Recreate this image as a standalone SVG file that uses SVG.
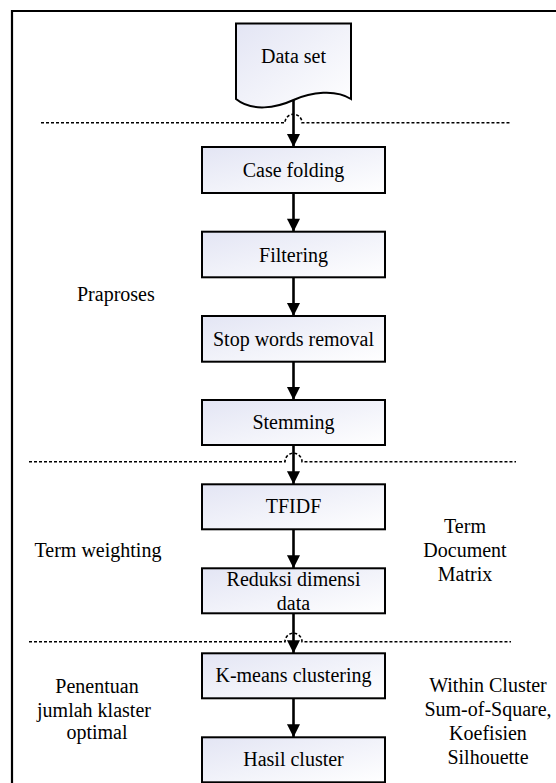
<svg xmlns="http://www.w3.org/2000/svg" width="556" height="783" viewBox="0 0 556 783">
<style>
text{font-family:"Liberation Serif","Times New Roman",serif;font-size:20px;fill:#000}
.c{text-anchor:middle}
.box{fill:url(#g);stroke:#000;stroke-width:2}
.sep{fill:none;stroke:#000;stroke-width:1.6;stroke-dasharray:3 2}
.arr{fill:none;stroke:#000;stroke-width:2.6;marker-end:url(#ah)}
</style>
<defs>
<linearGradient id="g" x1="0" y1="0" x2="1" y2="1">
<stop offset="0" stop-color="#e3e5f4"/>
<stop offset="1" stop-color="#ffffff"/>
</linearGradient>
<marker id="ah" viewBox="0 0 14 15" refX="14" refY="7" markerWidth="15" markerHeight="14" markerUnits="userSpaceOnUse" orient="auto">
<path d="M0,0 L14,7 L0,14 Z" fill="#000"/>
</marker>
</defs>
<rect x="0" y="0" width="556" height="783" fill="#fff"/>
<path d="M12,800 V11 H570" fill="none" stroke="#000" stroke-width="2.2"/>

<g id="separators">
<path class="sep" d="M41,122.7 H285 A8.5 8.5 0 0 1 302,122.7 H511"/>
<path class="sep" d="M29,461.7 H285 A8.5 8.5 0 0 1 302,461.7 H516"/>
<path class="sep" d="M29,641.7 H285 A8.5 8.5 0 0 1 302,641.7 H511"/>
</g>

<g id="connectors">
<path class="arr" d="M293.5,100 V147"/>
<path class="arr" d="M293.5,193 V231.7"/>
<path class="arr" d="M293.5,277.3 V316"/>
<path class="arr" d="M293.5,361.7 V400"/>
<path class="arr" d="M293.5,445 V484.3"/>
<path class="arr" d="M293.5,529.3 V568.3"/>
<path class="arr" d="M293.5,613.3 V653.3"/>
<path class="arr" d="M293.5,698.3 V737.3"/>
</g>

<g id="dataset">
<path class="box" d="M236,23.5 H351 V99 C336,89 311,92 293.5,100 C276,108 252,112 236,99 Z"/>
<text class="c" x="293.5" y="63">Data set</text>
</g>
<g id="casefolding">
<rect class="box" x="202" y="147" width="183" height="46"/>
<text class="c" x="293.5" y="177">Case folding</text>
</g>
<g id="filtering">
<rect class="box" x="202" y="231.7" width="183" height="45.6"/>
<text class="c" x="293.5" y="261.5">Filtering</text>
</g>
<g id="stopwords">
<rect class="box" x="202" y="316" width="183" height="45.7"/>
<text class="c" x="293.5" y="345.8">Stop words removal</text>
</g>
<g id="stemming">
<rect class="box" x="202" y="400" width="183" height="45"/>
<text class="c" x="293.5" y="429">Stemming</text>
</g>
<g id="tfidf">
<rect class="box" x="202" y="484.3" width="183" height="45"/>
<text class="c" x="293.5" y="513.3">TFIDF</text>
</g>
<g id="reduksi">
<rect class="box" x="202" y="568.3" width="183" height="45"/>
<text class="c" x="293.5" y="586">Reduksi dimensi</text>
<text class="c" x="293.5" y="610">data</text>
</g>
<g id="kmeans">
<rect class="box" x="202" y="653.3" width="183" height="45"/>
<text class="c" x="293.5" y="682">K-means clustering</text>
</g>
<g id="hasil">
<rect class="box" x="202" y="737.3" width="183" height="45"/>
<text class="c" x="293.5" y="766">Hasil cluster</text>
</g>

<g id="labels">
<text x="77" y="301">Praproses</text>
<text x="34.5" y="556.7">Term weighting</text>
<text class="c" x="465" y="533.3">Term</text>
<text class="c" x="465" y="557.3">Document</text>
<text class="c" x="465" y="581.3">Matrix</text>
<text class="c" x="97" y="693">Penentuan</text>
<text class="c" x="94" y="716.7">jumlah klaster</text>
<text class="c" x="97" y="739">optimal</text>
<text class="c" x="488" y="691.7">Within Cluster</text>
<text class="c" x="488" y="715.7">Sum-of-Square,</text>
<text class="c" x="488" y="739.7">Koefisien</text>
<text class="c" x="488" y="763.7">Silhouette</text>
</g>
</svg>
